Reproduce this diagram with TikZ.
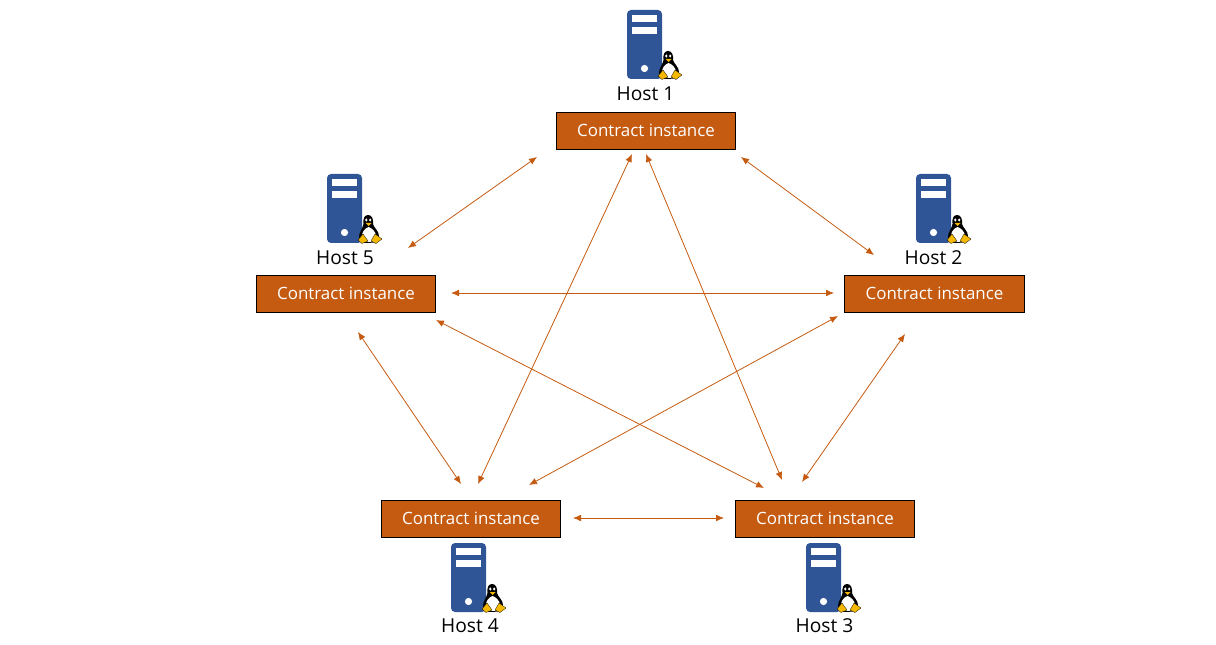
\documentclass[tikz,border=0pt]{standalone}
\usepackage{fontspec}
\setmainfont{Open Sans}
\definecolor{boxfill}{HTML}{C55A11}
\definecolor{srv}{HTML}{2F5597}
\definecolor{tuxy}{HTML}{F5B800}
\tikzset{
  x=0.75pt,y=-0.75pt,
  inst/.style={draw=black,line width=0.75pt,fill=boxfill,text=white,minimum width=134.5pt,minimum height=28pt,inner sep=0pt,font=\fontsize{12.7}{15}\selectfont},
  hostlabel/.style={text=black,inner sep=0pt,font=\fontsize{14.4}{17}\selectfont},
  link/.style={draw=boxfill,line width=0.6pt,{Latex[length=6pt,width=5pt]}-{Latex[length=6pt,width=5pt]}},
  pics/server/.style={code={
    \fill[srv,rounded corners=3pt] (0,0) rectangle (35,69);
    \fill[white] (5,5) rectangle (30,12);
    \fill[white] (5,17) rectangle (30,24);
    \fill[white] (17.5,58.5) circle (2.7pt);
    % penguin
    \fill[black] (41,41) .. controls (37,41) and (36,45) .. (36.5,50)
       .. controls (36,54) and (32,58) .. (32,63) .. controls (32,68) and (36,69) .. (41,69)
       .. controls (48,69) and (52,67) .. (52,62) .. controls (52,57) and (47,54) .. (46,50)
       .. controls (46.5,45) and (45,41) .. (41,41) -- cycle;
    \fill[white] (41.5,53) .. controls (38,54) and (35,58) .. (35,62) .. controls (35,66) and (38,68) .. (42,68)
       .. controls (46,68) and (49,66) .. (49,62) .. controls (49,58) and (45,54) .. (41.5,53) -- cycle;
    \fill[white] (39.3,46) ellipse [x radius=0.9pt,y radius=1.2pt];
    \fill[white] (43.2,46) ellipse [x radius=0.9pt,y radius=1.2pt];
    \fill[tuxy] (38.5,49) -- (44.5,49) -- (41.5,52) -- cycle;
    \fill[tuxy,draw=black,line width=0.2pt] (31,66) -- (36,60) -- (41,67) -- (35,69.5) -- cycle;
    \fill[tuxy,draw=black,line width=0.2pt] (55,65) -- (48,60) -- (44,67) -- (49,69.5) -- cycle;
  }}
}
\usetikzlibrary{arrows.meta}
\begin{document}
\begin{tikzpicture}
\useasboundingbox (0,0) rectangle (1216,645);
\node[inst] (c1) at (646,131) {\raisebox{1pt}{Contract instance}};
\node[inst] (c2) at (934.5,294) {\raisebox{1pt}{Contract instance}};
\node[inst] (c3) at (825,519) {\raisebox{1pt}{Contract instance}};
\node[inst] (c4) at (471,519) {\raisebox{1pt}{Contract instance}};
\node[inst] (c5) at (346,294) {\raisebox{1pt}{Contract instance}};
\node[hostlabel] (h1) at (645.5,94) {Host 1};
\node[hostlabel] (h2) at (933.5,258) {Host 2};
\node[hostlabel] (h3) at (824.5,626) {Host 3};
\node[hostlabel] (h4) at (470,626) {Host 4};
\node[hostlabel] (h5) at (345,258) {Host 5};
\pic at (627,10) {server};
\pic at (916,174) {server};
\pic at (806,543) {server};
\pic at (451,543) {server};
\pic at (327,174) {server};
\coordinate (a15) at (537,157); \coordinate (b15) at (408,248);
\coordinate (a12) at (741,157); \coordinate (b12) at (874,255);
\coordinate (a52) at (451,293); \coordinate (b52) at (834,293);
\coordinate (a14) at (632,154); \coordinate (b14) at (478,484);
\coordinate (a13) at (646,154); \coordinate (b13) at (782,480);
\coordinate (a53) at (436,320); \coordinate (b53) at (764,488);
\coordinate (a24) at (838,316); \coordinate (b24) at (529,485);
\coordinate (a54) at (358,332); \coordinate (b54) at (461,484);
\coordinate (a23) at (905,334); \coordinate (b23) at (802,482);
\coordinate (a43) at (573,518); \coordinate (b43) at (724,518);
\foreach \n in {15,12,52,14,13,53,24,54,23,43} \draw[link] (a\n) -- (b\n);
\end{tikzpicture}
\end{document}
